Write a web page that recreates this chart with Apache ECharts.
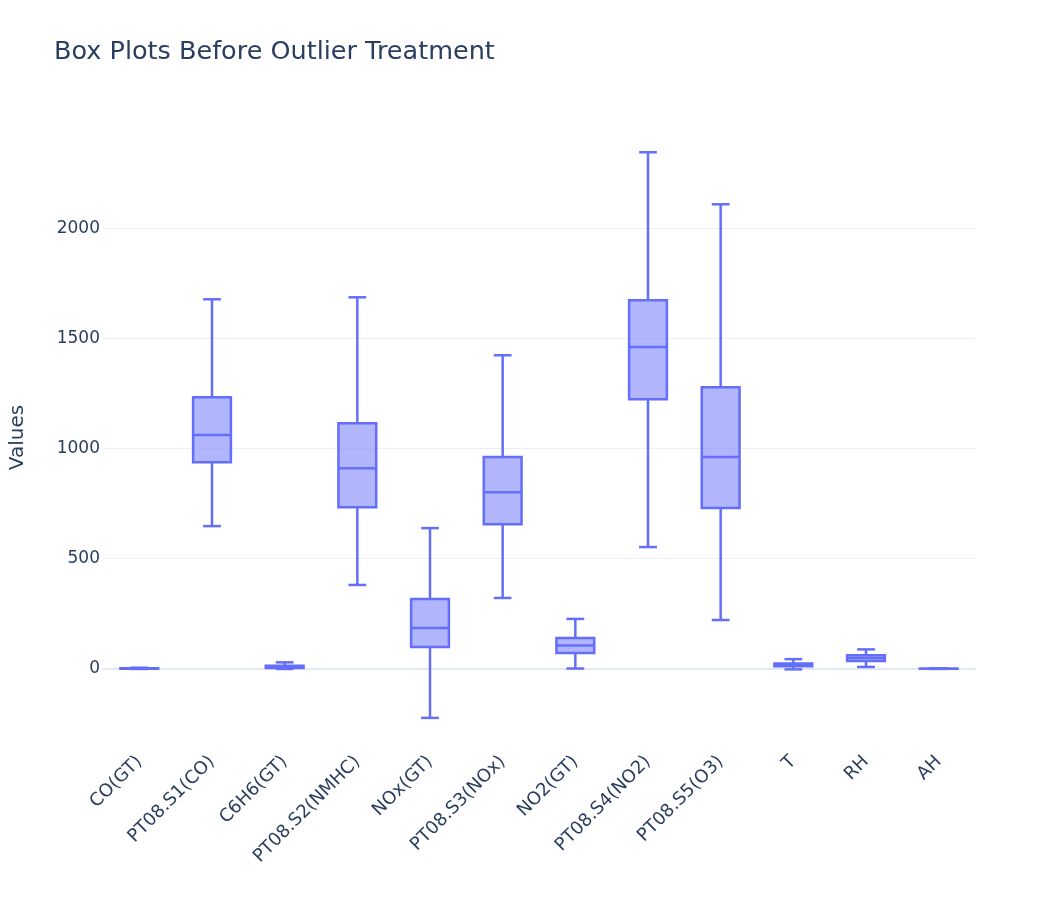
<!DOCTYPE html>
<html>
<head>
<meta charset="utf-8">
<script src="https://cdn.jsdelivr.net/npm/echarts@6/dist/echarts.min.js"></script>
<style>
  html, body { margin: 0; padding: 0; background: #fff; }
  #chart { width: 1050px; height: 900px; }
</style>
</head>
<body>
<div id="chart"></div>
<script>
// variables on the x axis
var categories = ['CO(GT)', 'PT08.S1(CO)', 'C6H6(GT)', 'PT08.S2(NMHC)', 'NOx(GT)', 'PT08.S3(NOx)',
                  'NO2(GT)', 'PT08.S4(NO2)', 'PT08.S5(O3)', 'T', 'RH', 'AH'];
// five-number summaries: lower whisker, q1, median, q3, upper whisker
var lowerFence = [0.1, 648, 0.1, 381, -222, 322, 2, 553, 222, -1.9, 9.2, 0.18];
var q1 = [1.1, 938, 4.4, 734, 100, 657, 72, 1224, 730, 11.8, 36.6, 0.74];
var median = [1.8, 1061, 8.2, 911, 186, 802, 106, 1460, 961, 17.8, 49.6, 1.0];
var q3 = [2.9, 1233, 14, 1115, 317, 961, 140, 1673, 1278, 24.4, 62.5, 1.3];
var upperFence = [5.6, 1677, 30, 1686, 639, 1423, 227, 2344, 2108, 44.6, 88.7, 2.2];

var textColor = '#2a3f5f';
var lineColor = '#636efa';
var fillColor = 'rgba(99,110,250,0.5)';
var gridColor = '#e3e9f4';
var font = '"DejaVu Sans", Verdana, sans-serif';

var boxData = categories.map(function (c, i) {
    return [i, lowerFence[i], q1[i], median[i], q3[i], upperFence[i]];
});

function renderBox(params, api) {
    var i = api.value(0);
    var band = api.size([1, 0])[0];
    var bw = band * 0.52;
    var cw = bw * 0.47;
    var pLow = api.coord([i, api.value(1)]);
    var pQ1 = api.coord([i, api.value(2)]);
    var pMed = api.coord([i, api.value(3)]);
    var pQ3 = api.coord([i, api.value(4)]);
    var pHigh = api.coord([i, api.value(5)]);
    var cx = pMed[0];
    var st = { stroke: lineColor, lineWidth: 2.5 };
    return {
        type: 'group',
        children: [
            { type: 'line', shape: { x1: cx, y1: pHigh[1], x2: cx, y2: pQ3[1] }, style: st },
            { type: 'line', shape: { x1: cx, y1: pQ1[1], x2: cx, y2: pLow[1] }, style: st },
            { type: 'line', shape: { x1: cx - cw / 2, y1: pHigh[1], x2: cx + cw / 2, y2: pHigh[1] }, style: st },
            { type: 'line', shape: { x1: cx - cw / 2, y1: pLow[1], x2: cx + cw / 2, y2: pLow[1] }, style: st },
            {
                type: 'rect',
                shape: { x: cx - bw / 2, y: pQ3[1], width: bw, height: pQ1[1] - pQ3[1] },
                style: { fill: fillColor, stroke: lineColor, lineWidth: 2.5 }
            },
            { type: 'line', shape: { x1: cx - bw / 2, y1: pMed[1], x2: cx + bw / 2, y2: pMed[1] }, style: st }
        ]
    };
}

var chart = echarts.init(document.getElementById('chart'));
chart.setOption({
    backgroundColor: '#fff',
    animation: false,
    title: {
        text: 'Box Plots Before Outlier Treatment',
        left: 49,
        top: 34,
        textStyle: { color: textColor, fontSize: 25.5, fontWeight: 'normal', fontFamily: font }
    },
    grid: { left: 102, right: 75, top: 130, bottom: 155 },
    xAxis: {
        type: 'category',
        data: categories,
        axisLine: { onZero: true, lineStyle: { color: gridColor, width: 2 } },
        axisTick: { show: false },
        splitLine: { show: false },
        axisLabel: {
            rotate: 45,
            interval: 0,
            margin: 14,
            color: textColor,
            fontSize: 18,
            fontFamily: font
        }
    },
    yAxis: {
        type: 'value',
        min: -345,
        max: 2445,
        splitNumber: 6,
        name: 'Values',
        nameLocation: 'middle',
        nameGap: 75,
        nameTextStyle: { color: textColor, fontSize: 20, fontFamily: font },
        axisLine: { show: false },
        axisTick: { show: false },
        axisLabel: {
            color: textColor,
            fontSize: 17,
            fontFamily: font,
            margin: 3,
            showMinLabel: false,
            showMaxLabel: false,
            formatter: function (v) { return String(v); }
        },
        splitLine: {
            show: true,
            showMinLine: false,
            showMaxLine: false,
            lineStyle: { color: '#ebf0f8', width: 1 }
        }
    },
    series: [{
        type: 'custom',
        renderItem: renderBox,
        encode: { x: 0, y: [1, 2, 3, 4, 5] },
        data: boxData
    }]
});
</script>
</body>
</html>
